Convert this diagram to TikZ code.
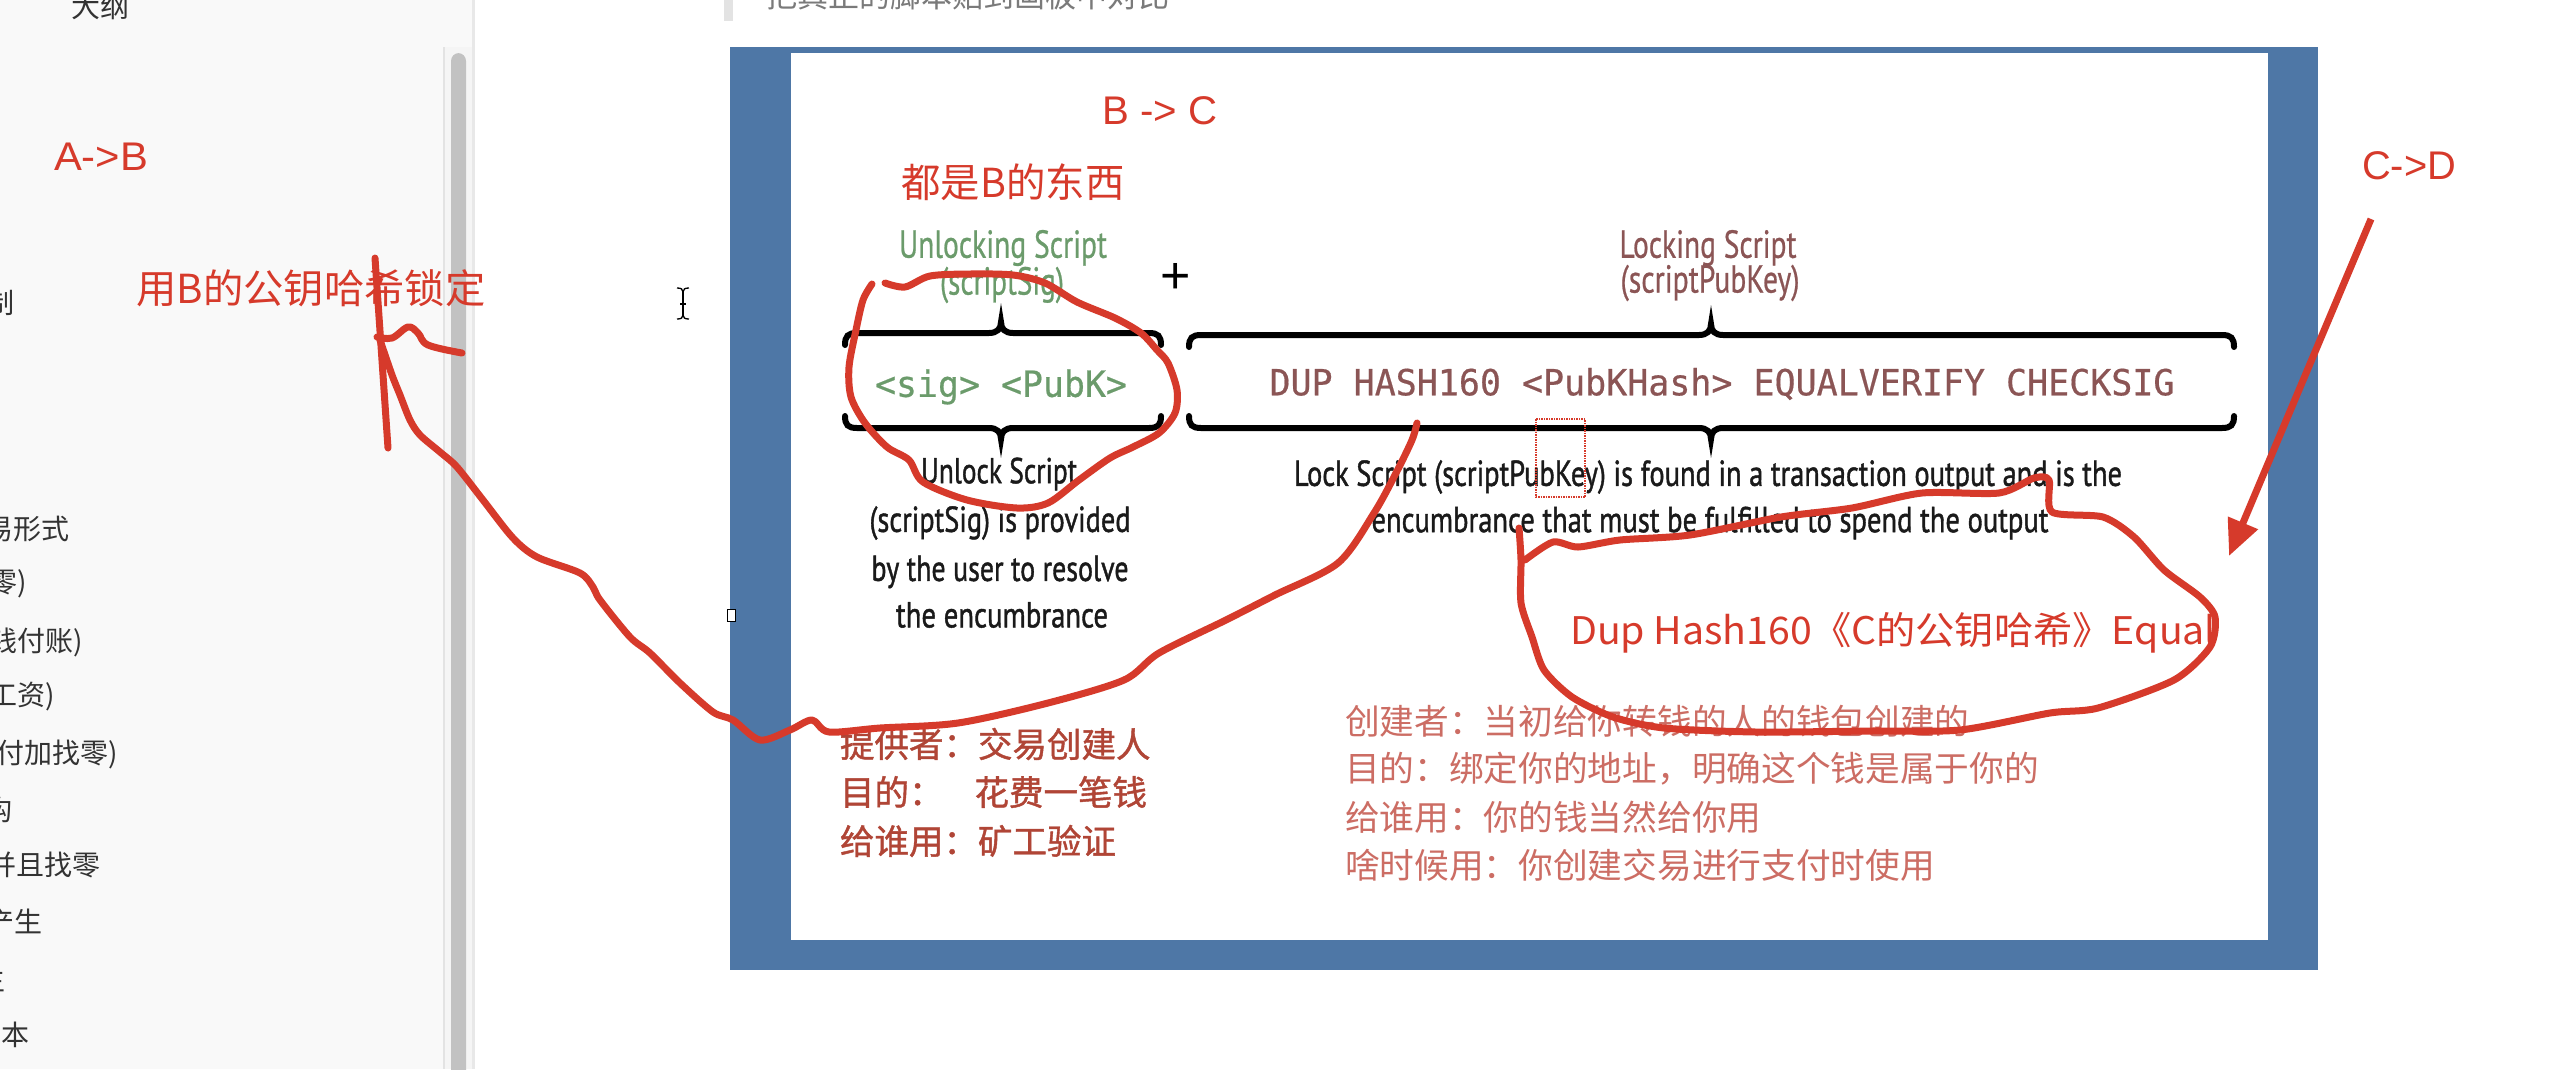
\documentclass[tikz,border=0pt]{standalone}
\usepackage{fontspec}
\usepackage{graphicx}
\setmainfont{Liberation Sans}
\newfontfamily\cjk{Noto Sans CJK SC}
\newfontfamily\cjkb[FakeBold=1.2]{Noto Sans CJK SC}
\newfontfamily\myr[FakeBold=0.7]{PT Sans}
\newfontfamily\myrb[FakeBold=1.3]{PT Sans}
\newfontfamily\mon[FakeBold=0.5]{DejaVu Sans Mono}
\usetikzlibrary{arrows.meta}
\newcommand\wfit[2]{\resizebox{#1pt}{\height}{#2}}
\newcommand\fs[1]{\fontsize{#1}{#1}\selectfont}
\definecolor{annred}{HTML}{D63A2B}
\definecolor{sidebg}{HTML}{F9F9F9}
\definecolor{sidegray}{HTML}{333333}
\definecolor{boardblue}{HTML}{4E77A6}
\definecolor{greenc}{HTML}{6B9B6B}
\definecolor{maroon}{HTML}{8B5555}
\definecolor{leftred}{HTML}{B04536}
\definecolor{rightred}{HTML}{CC6D64}
\definecolor{ink}{HTML}{1A1A1A}
\newcommand\topbrace[4]{%
  \draw[bracestyle] ({#1},{#4+12}) .. controls ({#1},{#4+3}) and ({#1+3},{#4}) .. ({#1+12},{#4})
    -- ({#2-12},{#4}) .. controls ({#2-4},{#4}) and ({#2},{#4-4}) .. ({#2},{#4-11})
    .. controls ({#2},{#4-4}) and ({#2+4},{#4}) .. ({#2+12},{#4})
    -- ({#3-12},{#4}) .. controls ({#3-3},{#4}) and ({#3},{#4+3}) .. ({#3},{#4+12});}
\newcommand\botbrace[4]{%
  \draw[bracestyle] ({#1},{#4-12}) .. controls ({#1},{#4-3}) and ({#1+3},{#4}) .. ({#1+12},{#4})
    -- ({#2-12},{#4}) .. controls ({#2-4},{#4}) and ({#2},{#4+4}) .. ({#2},{#4+11})
    .. controls ({#2},{#4+4}) and ({#2+4},{#4}) .. ({#2+12},{#4})
    -- ({#3-12},{#4}) .. controls ({#3-3},{#4}) and ({#3},{#4-3}) .. ({#3},{#4-12});}
\begin{document}
\begin{tikzpicture}[x=1pt,y=-1pt,
  every node/.style={inner sep=0pt,outer sep=0pt},
  sidetxt/.style={text=sidegray,font=\cjk\fs{28},anchor=east},
  redlat/.style={text=annred,font=\fs{40}},
  redcjk/.style={text=annred,font=\cjk\fs{40}},
  greentxt/.style={text=greenc,font=\myr\fs{39}},
  maroontxt/.style={text=maroon,font=\myr\fs{39}},
  monotxt/.style={font=\mon\fs{36}},
  blacktxt/.style={text=ink,font=\myrb\fs{36}},
  leftblk/.style={text=leftred,font=\cjkb\fs{34.5},anchor=west},
  rightblk/.style={text=rightred,font=\cjk\fs{34.7},anchor=west},
  stroke/.style={draw=annred,line width=7pt,line cap=round,line join=round},
  bracestyle/.style={draw=black,line width=6pt,line cap=round}]
\useasboundingbox (0,0) rectangle (2571,1069);
\clip (0,0) rectangle (2571,1069);
\fill[white] (0,0) rectangle (2571,1069);
% sidebar
\fill[sidebg] (0,0) rectangle (472,1069);
\fill[black!4] (444,47) rectangle (472,1069);
\draw[black!11,line width=1.2pt] (444,47) -- (444,1069);
\fill[black!24,rounded corners=8pt] (451,53) rectangle (466,1090);
\draw[black!9,line width=3pt] (473,0) -- (473,1069);
\node[text=sidegray,font=\cjk\fs{29}] (dagang) at (100,6) {大纲};
\node[sidetxt] (s1) at (15,303) {制};
\node[sidetxt] (s2) at (70,529) {易形式};
\node[sidetxt] (s3) at (27,584) {零)};
\node[sidetxt] (s4) at (83,642) {钱付账)};
\node[sidetxt] (s5) at (55,697) {工资)};
\node[sidetxt] (s6) at (118,754) {付加找零)};
\node[sidetxt] (s7) at (13,810) {构};
\node[sidetxt] (s8) at (100,865) {并且找零};
\node[sidetxt] (s9) at (43,922) {产生};
\node[sidetxt] (s10) at (5,979) {生};
\node[sidetxt] (s11) at (30,1035) {脚本};
% top text
\fill[black!11] (724,0) rectangle (733,21);
\node[anchor=west,text=black!52,font=\cjk\fs{31}] (toptxt) at (766,-4) {把真正的脚本贴到画板中对比};
% cursor
\draw[line width=1.6pt] (683,291) -- (683,316);
\draw[line width=1.3pt] (677,288) .. controls (681,288) and (683,289) .. (683,292) .. controls (683,289) and (685,288) .. (689,288);
\draw[line width=1.3pt] (677,319) .. controls (681,319) and (683,318) .. (683,315) .. controls (683,318) and (685,319) .. (689,319);
\draw[line width=1.3pt] (680,304) -- (686,304);
% board
\fill[boardblue] (730,47) rectangle (2318,970);
\fill[white] (791,53) rectangle (2268,940);
\draw[fill=white,line width=1pt] (727,609) rectangle (735,621);
% diagram texts
\node[greentxt] (unl) at (1003,248) {\wfit{208}{Unlocking Script}};
\node[greentxt] (unl2) at (1002,285) {\wfit{124}{(scriptSig)}};
\node[font=\fs{52}] (plus) at (1176,278) {+};
\node[maroontxt] (lck) at (1708,248) {\wfit{177}{Locking Script}};
\node[maroontxt] (lck2) at (1710,283) {\wfit{179}{(scriptPubKey)}};
\topbrace{845}{1001}{1161}{333}
\botbrace{845}{1001}{1161}{428}
\topbrace{1189}{1711}{2234}{335}
\botbrace{1189}{1711}{2234}{428}
\node[monotxt,text=greenc] (sig) at (1001,387) {\wfit{252}{<sig> <PubK>}};
\node[monotxt,text=maroon] (dup) at (1722,384) {\wfit{905}{DUP HASH160 <PubKHash> EQUALVERIFY CHECKSIG}};
\node[blacktxt] (ul1) at (999,474) {\wfit{156}{Unlock Script}};
\node[blacktxt] (ul2) at (1000,523) {\wfit{261}{(scriptSig) is provided}};
\node[blacktxt] (ul3) at (1000,572) {\wfit{257}{by the user to resolve}};
\node[blacktxt] (ul4) at (1002,615) {\wfit{212}{the encumbrance}};
\node[blacktxt] (ll1) at (1708,477) {\wfit{828}{Lock Script (scriptPubKey) is found in a transaction output and is the}};
\node[blacktxt] (ll2) at (1710,523) {\wfit{677}{encumbrance that must be fulfilled to spend the output}};
\draw[annred,densely dotted,line width=1.5pt] (1536,419) rectangle (1585,497);
% chinese blocks
\node[leftblk] (p1) at (840,744) {提供者：交易创建人};
\node[leftblk] (p2) at (840,792) {目的：\hspace{31pt}花费一笔钱};
\node[leftblk] (p3) at (840,841) {给谁用：矿工验证};
\node[rightblk] (q1) at (1345,721) {创建者：当初给你转钱的人的钱包创建的};
\node[rightblk] (q2) at (1345,769) {目的：绑定你的地址，明确这个钱是属于你的};
\node[rightblk] (q3) at (1345,817) {给谁用：你的钱当然给你用};
\node[rightblk] (q4) at (1345,865) {啥时候用：你创建交易进行支付时使用};
% annotations
\node[redlat] (bc) at (1160,111) {\wfit{115}{B -> C}};
\node[redcjk] (dushi) at (1013,182) {\wfit{223}{都是B的东西}};
\node[redlat] (ab) at (101,157) {\wfit{94}{A->B}};
\node[redlat] (cd) at (2409,166) {\wfit{94}{C->D}};
\node[redcjk] (lockb) at (311,288) {\wfit{349}{用B的公钥哈希锁定}};
\node[redcjk,font=\cjk\fs{38}] (dupc) at (1893,633) {\wfit{646}{Dup Hash160《C的公钥哈希》Equal}};
% freehand strokes
\draw[stroke] (375,258) -- (388,448);
\draw[stroke] plot[smooth,tension=0.6] coordinates {(377,337) (392,338) (408,327) (418,333) (428,345) (462,353)};
\draw[stroke] plot[smooth,tension=0.5] coordinates {(380,340) (392,375) (400,395) (410,420) (420,435) (440,452) (457,467) (483,500) (513,538) (537,557) (580,573) (593,587) (600,600) (630,637) (650,653) (680,683) (713,712) (733,720) (760,740) (790,730) (812,720) (829,732) (880,728) (958,723) (1048,703) (1124,680) (1159,653) (1226,620) (1275,595) (1338,563) (1374,513) (1396,473) (1412,440) (1417,423)};
\draw[stroke] plot[smooth,tension=0.5] coordinates {(885,283) (905,287) (930,276) (970,274) (1013,275) (1045,283) (1077,302) (1115,318) (1141,333) (1157,350) (1168,363) (1177,390) (1175,413) (1159,433) (1133,447) (1110,458) (1079,480) (1048,503) (1017,508) (967,500) (923,482) (909,460) (887,447) (865,423) (851,397) (849,367) (856,330) (863,300) (872,284)};
\draw[stroke] plot[smooth,tension=0.45] coordinates {(1519,528) (1521,560) (1521,603) (1532,637) (1544,670) (1572,697) (1613,717) (1664,728) (1756,732) (1870,731) (1960,730) (2050,713) (2098,708) (2174,680) (2210,647) (2215,617) (2200,597) (2164,570) (2134,537) (2103,517) (2052,512) (2049,480) (2034,478) (1999,493) (1922,493) (1852,508) (1781,517) (1690,535) (1620,540) (1578,547) (1553,542) (1525,560)};
\coordinate (cdA) at (2371,219);
\coordinate (cdB) at (2229,556);
\draw[stroke,line cap=butt,-{Triangle[length=36pt,width=31pt]}] (cdA) -- (cdB);
\end{tikzpicture}
\end{document}
